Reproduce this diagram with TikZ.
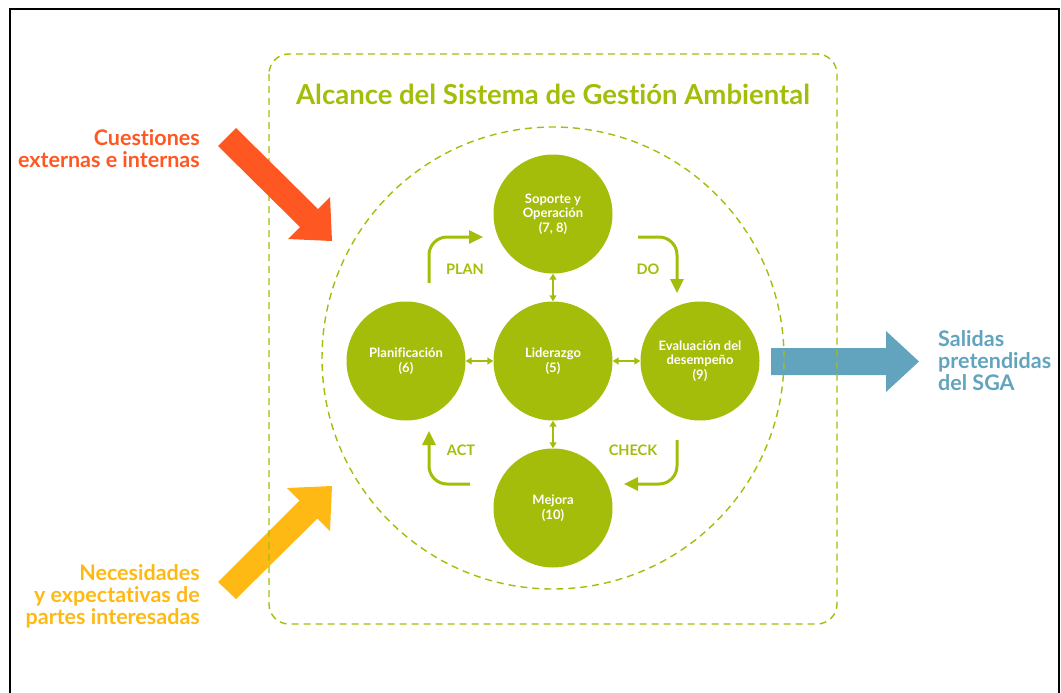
\documentclass[tikz,border=0pt]{standalone}
\usepackage{fontspec}
\setmainfont[Ligatures={NoCommon}]{Lato}
\usetikzlibrary{arrows.meta}
\definecolor{sgagreen}{HTML}{A4BD0A}
\definecolor{sgaorange}{HTML}{FF5722}
\definecolor{sgayellow}{HTML}{FFB915}
\definecolor{sgablue}{HTML}{62A4BD}
\tikzset{
  phase/.style={circle,fill=sgagreen,minimum size=119pt,inner sep=0pt,text=white,align=center,
    font=\bfseries\fontsize{13}{14.5}\selectfont},
  dashline/.style={draw=sgagreen,line width=1.4pt,dash pattern=on 7pt off 5pt},
  cyclearrow/.style={draw=sgagreen,line width=3pt,rounded corners=18pt,-{Triangle[length=14pt,width=13pt]}},
  linkarrow/.style={draw=sgagreen,line width=1.5pt,{Triangle[length=6pt,width=7pt]}-{Triangle[length=6pt,width=7pt]}},
  cyclelabel/.style={text=sgagreen,font=\bfseries\fontsize{14.5}{16}\selectfont},
  sidetext/.style={font=\bfseries\fontsize{21.5}{22}\selectfont,inner sep=0pt},
}
\begin{document}
\begin{tikzpicture}[x=1pt,y=-1pt]
\useasboundingbox (0,0) rectangle (1061,693);
% frame
\draw[line width=2pt,black] (10,700) -- (10,9) -- (1059,9) -- (1059,700);
% blue and yellow arrows (under dashed lines)
\fill[sgablue] (771,348) -- (886,348) -- (886,331) -- (919,361.5) -- (886,392) -- (886,375) -- (771,375) -- cycle;
\fill[sgayellow] (218,582) -- (299.5,500.5) -- (287,488) -- (332,486) -- (330,531) -- (317.5,518.5) -- (236,599) -- cycle;
% scope box and circle
\draw[dashline,rounded corners=20pt] (269,54) rectangle (837,624);
\draw[dashline] (553,358) circle[radius=231pt];
% orange arrow
\fill[sgaorange] (236,128) -- (318,209) -- (330,197) -- (332,241) -- (288,239) -- (300,227) -- (218,146) -- cycle;
% title
\node[text=sgagreen,font=\bfseries\fontsize{27.5}{30}\selectfont] (title) at (553,94) {Alcance del Sistema de Gestión Ambiental};
% phase circles
\node[phase] (sop) at (553,214) {Soporte y\\Operación\\(7, 8)};
\node[phase] (lid) at (553,361) {Liderazgo\\(5)};
\node[phase] (pla) at (406,361) {Planificación\\(6)};
\node[phase] (eva) at (700,361) {Evaluación del\\desempeño\\(9)};
\node[phase] (mej) at (553,508) {Mejora\\(10)};
% links
\draw[linkarrow] (sop.south) -- (lid.north);
\draw[linkarrow] (lid.south) -- (mej.north);
\draw[linkarrow] (pla.east) -- (lid.west);
\draw[linkarrow] (lid.east) -- (eva.west);
% cycle arrows
\coordinate (planA) at (429,283);
\coordinate (planB) at (483,237);
\coordinate (doA) at (638,237);
\coordinate (doB) at (677,293);
\coordinate (chA) at (677,440);
\coordinate (chB) at (624,484);
\coordinate (actA) at (470,484);
\coordinate (actB) at (429,431);
\draw[cyclearrow] (planA) |- (planB);
\draw[cyclearrow] (doA) -| (doB);
\draw[cyclearrow] (chA) |- (chB);
\draw[cyclearrow] (actA) -| (actB);
\node[cyclelabel] (plan) at (465,269) {PLAN};
\node[cyclelabel] (do) at (648,269) {DO};
\node[cyclelabel] (act) at (461,450) {ACT};
\node[cyclelabel] (check) at (633,450) {CHECK};
% side texts
\node[sidetext,text=sgaorange,align=right,anchor=east] (cuest) at (200,149) {Cuestiones\\externas e internas};
\node[sidetext,text=sgayellow,align=right,anchor=east] (neces) at (200,596) {Necesidades\\y expectativas de\\partes interesadas};
\node[sidetext,text=sgablue,align=left,anchor=west] (sal) at (938,361) {Salidas\\pretendidas\\del SGA};
\end{tikzpicture}
\end{document}
